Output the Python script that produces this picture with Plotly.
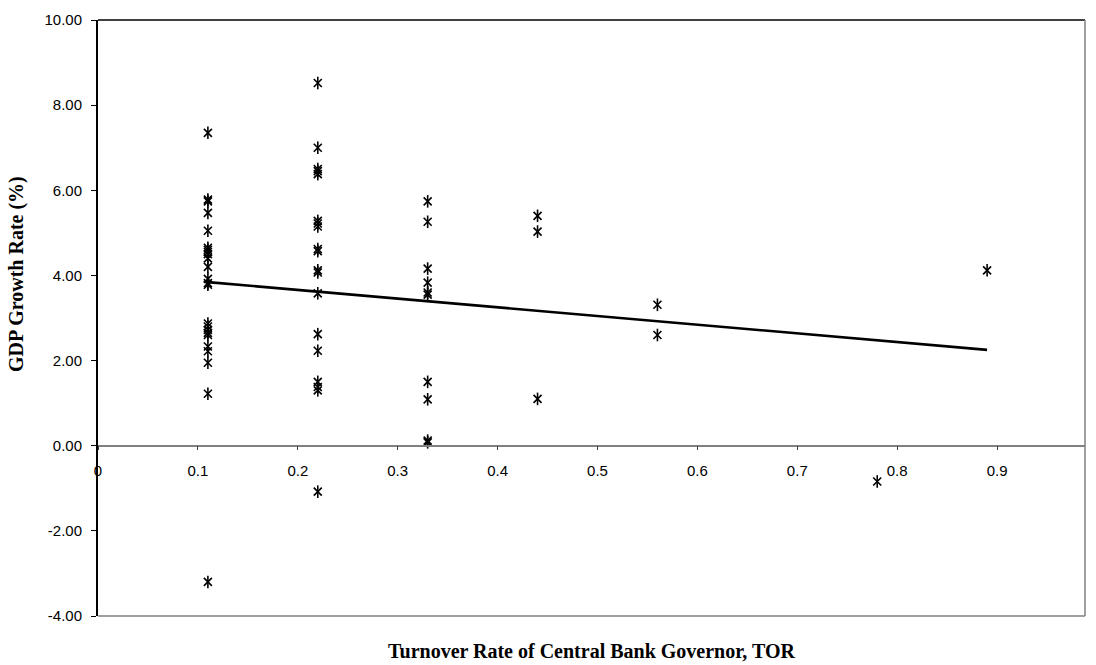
import numpy as np
import plotly.graph_objects as go

# Turnover rate of the central bank governor (x) and GDP growth (%) per country
tor_011 = [0.11] * 24
gdp_011 = [7.35, 5.78, 5.74, 5.47, 5.05, 4.65, 4.60, 4.55, 4.50, 4.40, 4.20,
           3.92, 3.82, 3.78, 2.87, 2.80, 2.72, 2.65, 2.60, 2.33, 2.22, 1.95,
           1.22, -3.20]
tor_022 = [0.22] * 19
gdp_022 = [8.52, 7.00, 6.50, 6.45, 6.38, 5.28, 5.22, 5.15, 4.62, 4.57, 4.12,
           4.07, 3.58, 2.62, 2.23, 1.50, 1.38, 1.30, -1.08]
tor_033 = [0.33] * 10
gdp_033 = [5.74, 5.26, 4.16, 3.83, 3.60, 3.55, 1.50, 1.09, 0.12, 0.08]
tor_044 = [0.44] * 3
gdp_044 = [5.40, 5.03, 1.10]
tor_056 = [0.56] * 2
gdp_056 = [3.31, 2.60]
tor_078 = [0.78]
gdp_078 = [-0.84]
tor_089 = [0.89]
gdp_089 = [4.12]

x = np.array(tor_011 + tor_022 + tor_033 + tor_044 + tor_056 + tor_078 + tor_089)
y = np.array(gdp_011 + gdp_022 + gdp_033 + gdp_044 + gdp_056 + gdp_078 + gdp_089)

y_ticks = [10, 8, 6, 4, 2, 0, -2, -4]
x_ticks = [0, 0.1, 0.2, 0.3, 0.4, 0.5, 0.6, 0.7, 0.8, 0.9]
x_range = [0, 0.988]
y_range = [-4, 10]

# Ordinary least-squares trend line over the observed TOR span
slope, intercept = np.polyfit(x, y, 1)
fit_x = np.array([x.min(), x.max()])
fit_y = intercept + slope * fit_x

fig = go.Figure()

# Star marker: an X with a vertical stroke through it
fig.add_trace(go.Scatter(
    x=x, y=y, mode="markers", showlegend=False, hoverinfo="skip",
    marker=dict(symbol="x-thin-open", size=8, color="black",
                line=dict(width=1.6, color="black")),
))
fig.add_trace(go.Scatter(
    x=x, y=y, mode="markers", showlegend=False,
    marker=dict(symbol="line-ns-open", size=9, color="black",
                line=dict(width=1.6, color="black")),
))
fig.add_trace(go.Scatter(
    x=fit_x, y=fit_y, mode="lines", showlegend=False,
    line=dict(color="black", width=2.6),
))

zero_pos = (0 - y_range[0]) / (y_range[1] - y_range[0])

fig.update_layout(
    width=1096, height=665,
    margin=dict(l=98, r=11, t=13, b=49),
    paper_bgcolor="white", plot_bgcolor="white",
    font=dict(family="Liberation Sans, Arial, sans-serif", size=15, color="black"),
    xaxis=dict(
        range=x_range, tickvals=x_ticks, ticktext=[f"{v:g}" for v in x_ticks],
        showgrid=False, zeroline=False, showline=True, linecolor="#808080",
        linewidth=1.5, ticks="outside", ticklen=4, tickcolor="#404040",
        anchor="free", position=zero_pos, ticklabelstandoff=8,
        tickfont=dict(size=15),
    ),
    yaxis=dict(
        range=y_range, tickvals=y_ticks, ticktext=[f"{v:.2f}" for v in y_ticks],
        showgrid=False, zeroline=False, showline=True, linecolor="black",
        linewidth=2, ticks="outside", ticklen=5, tickcolor="black",
        ticklabelstandoff=6, tickfont=dict(size=15),
    ),
    shapes=[
        dict(type="line", xref="paper", yref="paper", x0=0, x1=1, y0=1, y1=1,
             line=dict(color="black", width=1.5)),
        dict(type="line", xref="paper", yref="paper", x0=1, x1=1, y0=0, y1=1,
             line=dict(color="#808080", width=1.5)),
        dict(type="line", xref="paper", yref="paper", x0=0, x1=1, y0=0, y1=0,
             line=dict(color="#808080", width=1.5)),
    ],
    annotations=[
        dict(text="<b>GDP Growth Rate (%)</b>", xref="paper", yref="paper",
             x=-0.082, y=0.574, xanchor="center", yanchor="middle", textangle=-90,
             showarrow=False,
             font=dict(family="Liberation Serif, Times New Roman, serif", size=20)),
        dict(text="<b>Turnover Rate of Central Bank Governor, TOR</b>",
             xref="paper", yref="paper", x=0.5, y=-0.058, xanchor="center",
             yanchor="middle", showarrow=False,
             font=dict(family="Liberation Serif, Times New Roman, serif", size=20)),
    ],
)

fig.write_html("out.html")
